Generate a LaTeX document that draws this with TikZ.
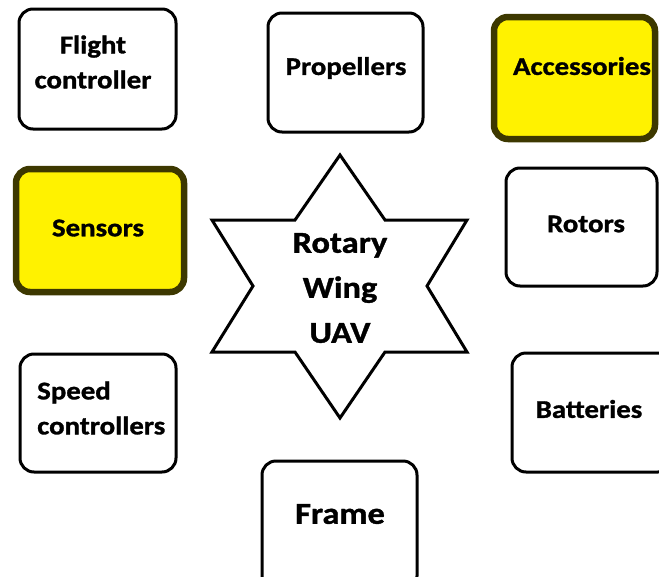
\documentclass[tikz,border=0pt]{standalone}
\usepackage{fontspec}
\newfontfamily\lab{Carlito}[FakeStretch=1.13,FakeBold=1.2]
\definecolor{boxyellow}{HTML}{FFF200}
\definecolor{olive}{HTML}{3D3800}
\begin{document}
\begin{tikzpicture}[x=1pt,y=-1pt,
  plain/.style={draw=black,line width=3pt,rounded corners=14pt,fill=white},
  hilite/.style={draw=olive,line width=6.5pt,rounded corners=14pt,fill=boxyellow},
  lbl/.style={font=\lab\bfseries\fontsize{25.5}{35}\selectfont,inner sep=0pt,align=center},
  big/.style={font=\lab\bfseries\fontsize{30.5}{45}\selectfont,inner sep=0pt,align=center}]
\useasboundingbox (0,0) rectangle (659,576);
% boxes
\draw[plain] (19,9) rectangle (176,129);
\draw[plain] (268,13) rectangle (423,132);
\draw[hilite] (494,17) rectangle (655,139);
\draw[plain] (506,168) rectangle (657,286);
\draw[hilite] (16,169) rectangle (184,292);
\draw[plain] (20,354) rectangle (176,472);
\draw[plain] (512,353) rectangle (672,472);
\draw[plain] (262,461) rectangle (417,590);
% star
\coordinate (t) at (340,155);
\coordinate (ulo) at (212,220);
\coordinate (uli) at (295,220);
\coordinate (uri) at (385,220);
\coordinate (uro) at (467,220);
\coordinate (ri) at (427,286);
\coordinate (lro) at (467,352);
\coordinate (lri) at (385,352);
\coordinate (b) at (340,418);
\coordinate (lli) at (295,352);
\coordinate (llo) at (212,352);
\coordinate (li) at (253,286);
\draw[line width=3pt,line join=miter,fill=white] (t) -- (uri) -- (uro) -- (ri) -- (lro) -- (lri) -- (b) -- (lli) -- (llo) -- (li) -- (ulo) -- (uli) -- cycle;
% labels
\node[lbl] (fc) at (93,62) {Flight\\controller};
\node[lbl] (pr) at (346,68) {Propellers};
\node[lbl] (ac) at (582,66) {Accessories};
\node[lbl] (se) at (98,228) {Sensors};
\node[lbl] (ro) at (586,224) {Rotors};
\node[lbl,align=left,anchor=west] (sc) at (37,408) {Speed\\controllers};
\node[lbl] (ba) at (589,409) {Batteries};
\node[big] (fr) at (340,514) {Frame};
\node[big] (uav) at (340,288) {Rotary\\Wing\\UAV};
\end{tikzpicture}
\end{document}
